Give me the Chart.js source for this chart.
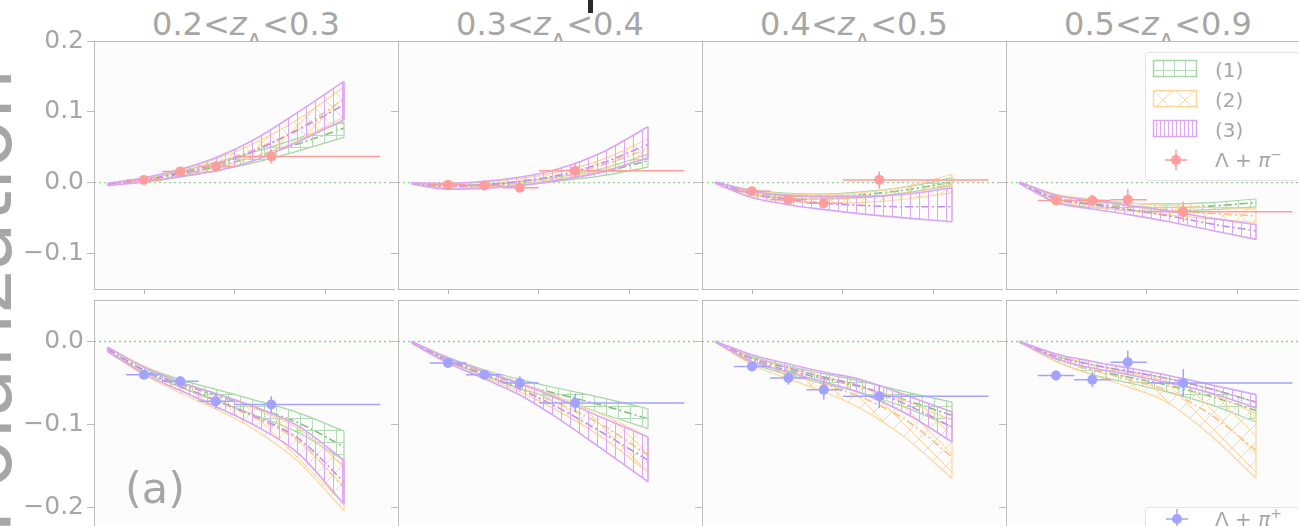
<!DOCTYPE html>
<html>
<head>
<meta charset="utf-8">
<script src="https://cdn.jsdelivr.net/npm/chart.js@4.4.1/dist/chart.umd.min.js"></script>
<style>
  html, body { margin: 0; padding: 0; }
  body { width: 1299px; height: 526px; overflow: hidden; position: relative; background: #fff;
         font-family: 'DejaVu Sans', sans-serif; color: #a6a6a6; }
  canvas { position: absolute; }
  .title { position: absolute; top: 8px; width: 304px; text-align: center; font-size: 32px; line-height: 32px; white-space: nowrap; }
  .title i { font-style: oblique; }
  .title sub { font-size: 23px; vertical-align: -15px; line-height: 0; }
  .ylab { position: absolute; left: -316px; top: 261px; width: 600px; height: 80px; line-height: 80px; font-size: 80px;
          text-align: center; transform: rotate(-90deg); white-space: nowrap; }
  .tag { position: absolute; left: 125px; top: 467px; font-size: 43px; line-height: 43px; z-index: 5; }
  .legend { position: absolute; border: 1px solid #e4e4e4; border-radius: 4px; background: #fff; z-index: 5; }
  .lg-txt { position: absolute; font-size: 20px; line-height: 20px; white-space: nowrap; z-index: 6; }
  .lg-txt i { font-style: oblique; }
  .lg-txt sup { font-size: 14px; vertical-align: 8px; line-height: 0; }
  .lg-sw { position: absolute; z-index: 6; }
  .crop-mark { position: absolute; left: 588px; top: 0; width: 5px; height: 13px; background: #2b2b2b; }
</style>
</head>
<body>
<div class="ylab">Polarization</div>
<div class="crop-mark"></div>
<div class="tag">(a)</div>

<script>
/* ===== DATA ===== */
const xs = [0.6, 1.0, 1.4, 1.8, 2.2, 2.7, 3.2];
const xTicks = [1, 2, 3];
const yTicksTop = [-0.1, 0, 0.1, 0.2];
const yTicksBot = [-0.2, -0.1, 0];
const zEdges = ['0.2', '0.3', '0.4', '0.5', '0.9'];

// model (1) — one row per z bin
const greenLoTop  = [[-0.003, 0.001, 0.008, 0.017, 0.028, 0.045, 0.064], [-0.002, -0.007, -0.006, -0.003, 0.002, 0.010, 0.022], [-0.001, -0.016, -0.022, -0.023, -0.021, -0.014, -0.004], [-0.001, -0.027, -0.035, -0.039, -0.040, -0.038, -0.034]];
const greenMidTop = [[-0.002, 0.003, 0.012, 0.023, 0.036, 0.055, 0.077], [-0.001, -0.005, -0.004, -0.001, 0.005, 0.015, 0.031], [0, -0.013, -0.018, -0.019, -0.017, -0.010, 0.001], [0, -0.022, -0.030, -0.034, -0.035, -0.033, -0.028]];
const greenHiTop  = [[-0.001, 0.005, 0.016, 0.029, 0.043, 0.063, 0.086], [0, -0.003, -0.002, 0.002, 0.008, 0.020, 0.040], [0.001, -0.010, -0.015, -0.016, -0.013, -0.006, 0.007], [0.001, -0.017, -0.025, -0.029, -0.030, -0.028, -0.023]];
const greenLoBot  = [[-0.011, -0.037, -0.055, -0.072, -0.088, -0.110, -0.143], [-0.002, -0.024, -0.041, -0.057, -0.069, -0.087, -0.105], [-0.001, -0.026, -0.040, -0.051, -0.062, -0.080, -0.103], [-0.001, -0.024, -0.040, -0.050, -0.060, -0.076, -0.097]];
const greenMidBot = [[-0.009, -0.034, -0.051, -0.065, -0.079, -0.098, -0.127], [-0.001, -0.022, -0.037, -0.052, -0.063, -0.077, -0.093], [0, -0.022, -0.035, -0.045, -0.055, -0.071, -0.089], [0, -0.020, -0.034, -0.043, -0.052, -0.066, -0.083]];
const greenHiBot  = [[-0.007, -0.030, -0.046, -0.058, -0.070, -0.086, -0.108], [0, -0.019, -0.034, -0.046, -0.056, -0.068, -0.081], [0, -0.018, -0.030, -0.039, -0.048, -0.061, -0.073], [0, -0.016, -0.028, -0.036, -0.044, -0.057, -0.073]];

// model (2)
const orangeLoTop  = [[-0.003, 0.002, 0.010, 0.021, 0.036, 0.060, 0.093], [-0.002, -0.007, -0.006, -0.002, 0.005, 0.017, 0.035], [-0.001, -0.018, -0.026, -0.029, -0.028, -0.023, -0.014], [-0.001, -0.026, -0.034, -0.040, -0.045, -0.051, -0.056]];
const orangeMidTop = [[-0.002, 0.004, 0.014, 0.028, 0.046, 0.076, 0.118], [-0.001, -0.005, -0.003, 0.002, 0.010, 0.025, 0.048], [0, -0.014, -0.021, -0.023, -0.021, -0.014, -0.002], [0, -0.021, -0.028, -0.034, -0.038, -0.043, -0.047]];
const orangeHiTop  = [[-0.001, 0.006, 0.018, 0.034, 0.055, 0.090, 0.135], [0, -0.002, 0.001, 0.006, 0.015, 0.033, 0.062], [0.001, -0.011, -0.016, -0.017, -0.014, -0.005, 0.012], [0.001, -0.016, -0.023, -0.028, -0.032, -0.035, -0.037]];
const orangeLoBot  = [[-0.012, -0.040, -0.062, -0.082, -0.105, -0.145, -0.204], [-0.002, -0.025, -0.043, -0.061, -0.083, -0.116, -0.157], [-0.001, -0.028, -0.045, -0.061, -0.081, -0.117, -0.165], [-0.001, -0.024, -0.040, -0.055, -0.072, -0.113, -0.165]];
const orangeMidBot = [[-0.009, -0.035, -0.055, -0.072, -0.091, -0.120, -0.176], [-0.001, -0.023, -0.039, -0.056, -0.074, -0.101, -0.137], [0, -0.023, -0.038, -0.052, -0.067, -0.095, -0.139], [0, -0.020, -0.034, -0.046, -0.058, -0.088, -0.131]];
const orangeHiBot  = [[-0.007, -0.030, -0.049, -0.063, -0.080, -0.105, -0.150], [0, -0.020, -0.036, -0.050, -0.066, -0.088, -0.115], [0, -0.019, -0.032, -0.043, -0.054, -0.072, -0.095], [0, -0.016, -0.028, -0.038, -0.047, -0.063, -0.087]];

// model (3)
const purpleLoTop  = [[-0.004, 0.001, 0.009, 0.017, 0.031, 0.058, 0.089], [-0.002, -0.009, -0.008, -0.004, 0.003, 0.015, 0.035], [-0.001, -0.021, -0.031, -0.038, -0.044, -0.050, -0.055], [-0.001, -0.028, -0.037, -0.045, -0.054, -0.067, -0.080]];
const purpleMidTop = [[-0.002, 0.004, 0.014, 0.026, 0.044, 0.075, 0.110], [-0.001, -0.005, -0.003, 0.002, 0.010, 0.028, 0.054], [0, -0.016, -0.024, -0.029, -0.032, -0.034, -0.034], [0, -0.023, -0.031, -0.038, -0.046, -0.058, -0.068]];
const purpleHiTop  = [[-0.001, 0.007, 0.019, 0.036, 0.060, 0.100, 0.143], [0, -0.001, 0.002, 0.008, 0.019, 0.043, 0.079], [0.001, -0.012, -0.018, -0.020, -0.020, -0.016, -0.007], [0.001, -0.018, -0.025, -0.032, -0.039, -0.050, -0.059]];
const purpleLoBot  = [[-0.012, -0.039, -0.059, -0.079, -0.100, -0.135, -0.196], [-0.002, -0.026, -0.045, -0.065, -0.092, -0.130, -0.169], [-0.001, -0.024, -0.037, -0.049, -0.062, -0.087, -0.121], [-0.001, -0.021, -0.032, -0.040, -0.049, -0.062, -0.080]];
const purpleMidBot = [[-0.009, -0.035, -0.054, -0.071, -0.089, -0.117, -0.169], [-0.001, -0.023, -0.040, -0.058, -0.079, -0.110, -0.143], [0, -0.020, -0.032, -0.043, -0.054, -0.076, -0.103], [0, -0.018, -0.028, -0.036, -0.044, -0.057, -0.073]];
const purpleHiBot  = [[-0.007, -0.031, -0.049, -0.063, -0.078, -0.102, -0.143], [0, -0.020, -0.036, -0.051, -0.068, -0.092, -0.115], [0, -0.016, -0.027, -0.037, -0.046, -0.065, -0.085], [0, -0.015, -0.024, -0.032, -0.040, -0.052, -0.064]];

// measured points (Λ+π− top row, Λ+π+ bottom row)
const ptX   = [1.0, 1.4, 1.79, 2.4];
const ptXlo = [0.8, 1.2, 1.6, 2.0];
const ptXhi = [1.2, 1.6, 2.0, 3.6];
const ptYTop   = [[0.004, 0.016, 0.023, 0.037], [-0.003, -0.004, -0.007, 0.017], [-0.012, -0.024, -0.029, 0.004], [-0.025, -0.025, -0.024, -0.041]];
const ptErrTop = [[0.003, 0.004, 0.008, 0.010], [0.003, 0.003, 0.007, 0.010], [0.004, 0.005, 0.007, 0.012], [0.004, 0.008, 0.015, 0.014]];
const ptYBot   = [[-0.040, -0.048, -0.072, -0.076], [-0.026, -0.040, -0.050, -0.074], [-0.030, -0.044, -0.058, -0.066], [-0.041, -0.046, -0.025, -0.050]];
const ptErrBot = [[0.003, 0.006, 0.009, 0.010], [0.003, 0.004, 0.008, 0.011], [0.004, 0.008, 0.012, 0.014], [0.006, 0.009, 0.014, 0.017]];

/* ===== STYLE ===== */
const FONT = "'DejaVu Sans', sans-serif";
const TXT = '#a6a6a6';
const AXIS = '#bcbcbc';
const BG = '#fcfcfc';
const ZERO = '#98cc98';
const PINK = '#ff9c9c';
const BLUE = '#a3a3ff';
const colLeft = [94, 398, 702, 1006];
const PW = 304;

function hatchPattern(kind, color, size) {
  const c = document.createElement('canvas');
  c.width = c.height = size;
  const g = c.getContext('2d');
  g.strokeStyle = color; g.lineWidth = 1;
  g.beginPath();
  if (kind === 'grid')  { g.moveTo(0.5, 0); g.lineTo(0.5, size); g.moveTo(0, 0.5); g.lineTo(size, 0.5); }
  if (kind === 'vert')  { g.moveTo(0.5, 0); g.lineTo(0.5, size); }
  if (kind === 'cross') { g.moveTo(-1, -1); g.lineTo(size + 1, size + 1); g.moveTo(size + 1, -1); g.lineTo(-1, size + 1); }
  g.stroke();
  return g.createPattern(c, 'repeat');
}

const models = [
  { key: 'purple', edge: '#daa6f4', mid: '#c38ee6', hatch: '#dcaaf5', kind: 'vert',  size: 9,  lw: 1.6,
    lo: [purpleLoTop, purpleLoBot], md: [purpleMidTop, purpleMidBot], hi: [purpleHiTop, purpleHiBot] },
  { key: 'orange', edge: '#ffd59b', mid: '#f7c185', hatch: '#ffd7a2', kind: 'cross', size: 18, lw: 1.2,
    lo: [orangeLoTop, orangeLoBot], md: [orangeMidTop, orangeMidBot], hi: [orangeHiTop, orangeHiBot] },
  { key: 'green',  edge: '#a6d6a6', mid: '#86bb86', hatch: '#b2dcb2', kind: 'grid',  size: 12, lw: 1.2,
    lo: [greenLoTop, greenLoBot], md: [greenMidTop, greenMidBot], hi: [greenHiTop, greenHiBot] }
];

const fmt = v => (v < 0 ? '\u2212' : '') + Math.abs(v).toFixed(1);
const pts = arr => xs.map((x, i) => ({ x, y: arr[i] }));

/* ===== PLUGINS ===== */
const panelFrame = {
  id: 'panelFrame',
  beforeDraw(chart) {
    const { ctx, chartArea: a } = chart;
    ctx.save(); ctx.fillStyle = BG; ctx.fillRect(a.left, a.top, a.width, a.height); ctx.restore();
  },
  afterDatasetsDraw(chart) {
    const { ctx, chartArea: a } = chart;
    ctx.save(); ctx.strokeStyle = AXIS; ctx.lineWidth = 1;
    ctx.beginPath(); ctx.moveTo(a.left, a.top + 0.5); ctx.lineTo(a.right, a.top + 0.5); ctx.stroke();
    ctx.restore();
  }
};

const errorBars = {
  id: 'errorBars',
  beforeDatasetDraw(chart, args) {
    const ds = chart.data.datasets[args.index];
    if (!ds.errY) return;
    const { ctx, chartArea: a, scales: { x, y } } = chart;
    ctx.save();
    ctx.beginPath(); ctx.rect(a.left, a.top, a.width, a.height); ctx.clip();
    ctx.strokeStyle = ds.pointBackgroundColor; ctx.lineWidth = 1.5;
    ds.data.forEach((p, i) => {
      const px = x.getPixelForValue(p.x), py = y.getPixelForValue(p.y);
      ctx.beginPath();
      ctx.moveTo(x.getPixelForValue(ds.errXlo[i]), py); ctx.lineTo(x.getPixelForValue(ds.errXhi[i]), py);
      ctx.moveTo(px, y.getPixelForValue(p.y - ds.errY[i])); ctx.lineTo(px, y.getPixelForValue(p.y + ds.errY[i]));
      ctx.stroke();
    });
    ctx.restore();
  }
};

// pin the plot box: no label overhang padding
const noPad = s => { s.paddingTop = 0; s.paddingBottom = 0; s.paddingLeft = 0; s.paddingRight = 0; };

/* ===== PANELS ===== */
function buildPanel(row, col) {
  const isTop = row === 0;
  const yw = col === 0 ? 94 : 8;
  const h = isTop ? 248 : 249;
  const cv = document.createElement('canvas');
  cv.width = yw + PW + 1; cv.height = 14 + h + 6;
  cv.style.left = (colLeft[col] - yw) + 'px';
  cv.style.top = ((isTop ? 41 : 300) - 14) + 'px';
  document.body.appendChild(cv);

  const datasets = [];
  datasets.push({
    data: ptX.map((x, i) => ({ x, y: (isTop ? ptYTop : ptYBot)[col][i] })),
    showLine: false, pointRadius: 5, pointBorderWidth: 0,
    pointBackgroundColor: isTop ? PINK : BLUE,
    errXlo: ptXlo, errXhi: ptXhi, errY: (isTop ? ptErrTop : ptErrBot)[col], order: 0
  });
  models.forEach((m, k) => {
    const lo = m.lo[row][col], md = m.md[row][col], hi = m.hi[row][col];
    const last = xs.length - 1;
    const base = { borderColor: m.edge, borderWidth: m.lw, pointRadius: 0, order: k + 1 };
    datasets.push({ ...base, data: pts(hi), cubicInterpolationMode: 'monotone', fill: '+1', backgroundColor: hatchPattern(m.kind, m.hatch, m.size) });
    datasets.push({ ...base, data: pts(lo), cubicInterpolationMode: 'monotone', fill: false });
    datasets.push({ ...base, data: [{ x: xs[last], y: lo[last] }, { x: xs[last], y: hi[last] }], fill: false });
    datasets.push({ ...base, data: [{ x: xs[0], y: lo[0] }, { x: xs[0], y: hi[0] }], fill: false });
    datasets.push({ ...base, data: pts(md), cubicInterpolationMode: 'monotone', fill: false,
                    borderColor: m.mid, borderWidth: 1.6, borderDash: [8, 3, 2, 3] });
  });
  datasets.push({ data: [{ x: 0.45, y: 0 }, { x: 3.75, y: 0 }], borderColor: ZERO, borderWidth: 1.3,
                  borderDash: [2, 3], pointRadius: 0, fill: false, order: 9 });

  new Chart(cv, {
    type: 'line',
    data: { datasets },
    plugins: [panelFrame, errorBars],
    options: {
      responsive: false, animation: false, events: [],
      layout: { padding: { top: 14, right: 1, left: 0, bottom: 0 } },
      plugins: { legend: { display: false }, tooltip: { enabled: false } },
      scales: {
        x: {
          type: 'linear', min: 0.45, max: 3.75,
          afterBuildTicks: s => { s.ticks = xTicks.map(v => ({ value: v })); },
          afterFit: s => { s.height = 6; noPad(s); },
          ticks: { display: false },
          grid: { drawOnChartArea: false, tickLength: 5, color: AXIS },
          border: { color: AXIS }
        },
        y: {
          type: 'linear', min: isTop ? -0.15 : -0.25, max: isTop ? 0.2 : 0.05,
          afterBuildTicks: s => { s.ticks = (isTop ? yTicksTop : yTicksBot).map(v => ({ value: v })); },
          afterFit: s => { s.width = yw; noPad(s); },
          ticks: { display: col === 0, padding: 3, color: TXT, font: { family: FONT, size: 25 }, callback: v => fmt(v) },
          grid: { drawOnChartArea: false, tickLength: 7, color: AXIS },
          border: { color: AXIS }
        }
      }
    }
  });
}

/* ===== TITLES ===== */
colLeft.forEach((left, i) => {
  const t = document.createElement('div');
  t.className = 'title';
  t.style.left = left + 'px';
  t.innerHTML = `${zEdges[i]}&lt;<i>z</i><sub>Λ</sub>&lt;${zEdges[i + 1]}`;
  document.body.appendChild(t);
});

[0, 1].forEach(r => [0, 1, 2, 3].forEach(c => buildPanel(r, c)));

/* ===== LEGENDS ===== */
function addBox(left, top, w, h) {
  const d = document.createElement('div');
  d.className = 'legend';
  Object.assign(d.style, { left: left + 'px', top: top + 'px', width: w + 'px', height: h + 'px' });
  document.body.appendChild(d);
}
function addText(html, left, baseline) {
  const d = document.createElement('div');
  d.className = 'lg-txt';
  d.style.left = left + 'px'; d.style.top = (baseline - 17) + 'px';
  d.innerHTML = html;
  document.body.appendChild(d);
}
function addSwatch(m, left, top, pSize) {
  const c = document.createElement('canvas');
  c.className = 'lg-sw'; c.width = 46; c.height = 19;
  c.style.left = (left - 1) + 'px'; c.style.top = (top - 1) + 'px';
  const g = c.getContext('2d');
  g.fillStyle = hatchPattern(m.kind, m.hatch, pSize);
  g.fillRect(1, 1, 44, 17);
  g.strokeStyle = m.edge; g.lineWidth = 1.5; g.strokeRect(1.5, 1.5, 43, 16);
  document.body.appendChild(c);
}
function addMarker(color, cx, cy) {
  const c = document.createElement('canvas');
  c.className = 'lg-sw'; c.width = 30; c.height = 26;
  c.style.left = (cx - 15) + 'px'; c.style.top = (cy - 13) + 'px';
  const g = c.getContext('2d');
  g.strokeStyle = color; g.fillStyle = color; g.lineWidth = 1.5;
  g.beginPath(); g.moveTo(4, 13); g.lineTo(26, 13); g.moveTo(15, 3); g.lineTo(15, 23); g.stroke();
  g.beginPath(); g.arc(15, 13, 5, 0, Math.PI * 2); g.fill();
  document.body.appendChild(c);
}

addBox(1145, 52, 153, 127);
addSwatch(models[2], 1153, 60, 11);
addSwatch(models[1], 1153, 90, 22);
addSwatch(models[0], 1153, 120, 4);
addText('(1)', 1215, 77);
addText('(2)', 1215, 107);
addText('(3)', 1215, 137);
addMarker(PINK, 1176, 160);
addText('Λ + <i>π</i><sup>−</sup>', 1215, 167);

addBox(1145, 507, 153, 40);
addMarker(BLUE, 1177, 519);
addText('Λ + <i>π</i><sup>+</sup>', 1215, 526);
</script>
</body>
</html>
